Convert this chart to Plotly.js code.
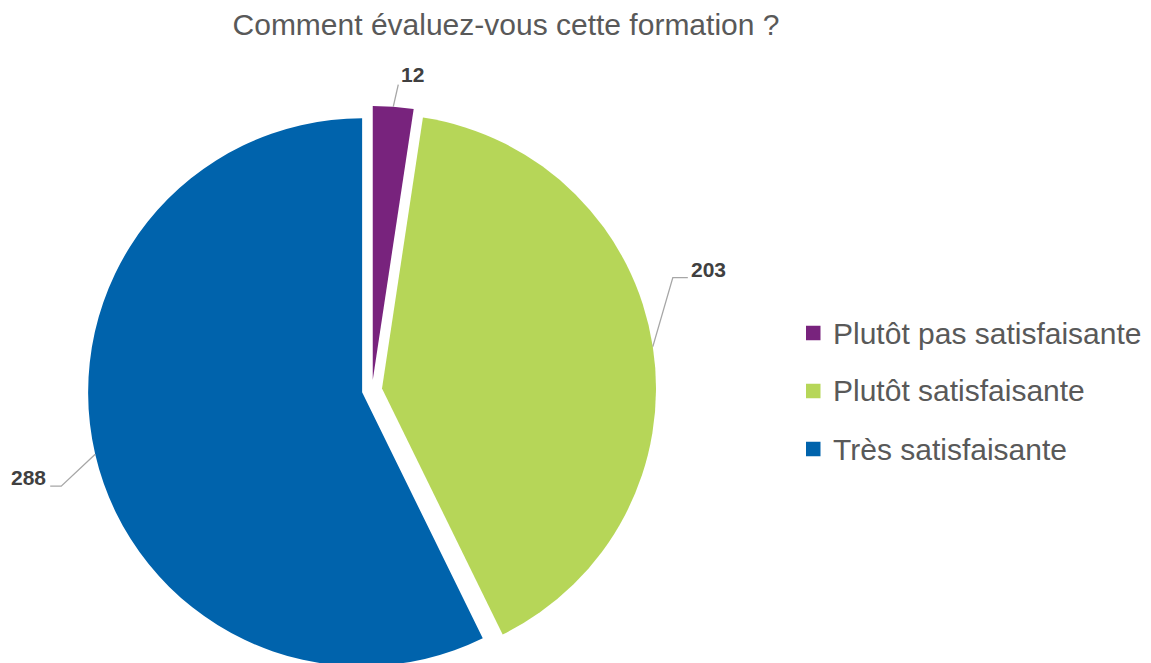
<!DOCTYPE html>
<html><head><meta charset="utf-8">
<script src="https://cdn.plot.ly/plotly-3.0.1.min.js"></script>
<style>html,body{margin:0;padding:0;overflow:hidden;background:#fff}#chart{width:1151px;height:680px}</style>
</head><body><div id="chart"></div>
<script>
const titleText = "Comment évaluez-vous cette formation ?";
const categories = ["Plutôt pas satisfaisante", "Plutôt satisfaisante", "Très satisfaisante"];
const values = [12, 203, 288];
const colors = ["#78237D", "#B6D658", "#0063AC"];

const W = 1151, H = 680;
const cx = 372, cy = 390, R = 274, pull = 0.037;
const font = "Liberation Sans, Arial, sans-serif";
const labelFont = "Liberation Sans Narrow, Arial Narrow, Liberation Sans, sans-serif";

// leader-line styling (relative to the slice edge point): elbow offset and horizontal run
const leaderStyle = [
  {ex: 5, ey: -22, hx: 0, side: 'right', ty: -10},
  {ex: 20, ey: -69, hx: 15, side: 'right', ty: -8},
  {ex: -34, ey: 32, hx: -11, side: 'left', ty: -9}
];

const px = x => x / W, py = y => 1 - y / H;
const total = values.reduce((a, b) => a + b, 0);
const shapes = [], annotations = [];
let cum = 0;
values.forEach((v, i) => {
  const mid = (cum + v / 2) / total * 2 * Math.PI;
  cum += v;
  const ux = Math.sin(mid), uy = -Math.cos(mid);
  const ex = cx + R * (1 + pull) * ux, ey = cy + R * (1 + pull) * uy;
  const s = leaderStyle[i];
  const bx = ex + s.ex, by = ey + s.ey;
  const hx = bx + s.hx;
  shapes.push({type: 'path', xref: 'paper', yref: 'paper',
    path: `M${px(ex)},${py(ey)} L${px(bx)},${py(by)} L${px(hx)},${py(by)}`,
    line: {color: '#A6A6A6', width: 1.3}});
  annotations.push({xref: 'paper', yref: 'paper', x: px(hx + (s.side === 'right' ? 1 : -2)), y: py(by + s.ty),
    xanchor: s.side === 'right' ? 'left' : 'right', yanchor: 'middle', showarrow: false,
    text: '<b>' + v + '</b>', font: {family: labelFont, size: 21, color: '#404040'}});
});

// legend drawn from categories/colors
categories.forEach((c, i) => {
  const yc = 333 + i * 58;
  shapes.push({type: 'rect', xref: 'paper', yref: 'paper', x0: px(806), x1: px(820.5), y0: py(yc - 7.25), y1: py(yc + 7.25),
    fillcolor: colors[i], line: {width: 0}});
  annotations.push({xref: 'paper', yref: 'paper', x: px(831), y: py(yc), xanchor: 'left', yanchor: 'middle',
    showarrow: false, text: c, font: {family: font, size: 30, color: '#595959'}});
});

const rx = R * (1 + pull);
const data = [{
  type: 'pie', labels: categories, values: values, sort: false, direction: 'clockwise', rotation: 0,
  pull: values.map(() => pull), textinfo: 'none', hoverinfo: 'label+value',
  marker: {colors: colors, line: {color: '#fff', width: 0}},
  domain: {x: [px(cx - rx), px(cx + rx)], y: [py(cy + rx), py(cy - rx)]}
}];
const layout = {
  width: W, height: H, margin: {l: 0, r: 0, t: 0, b: 0},
  paper_bgcolor: '#fff', showlegend: false,
  title: {text: titleText, x: 506 / W, xanchor: 'center', y: 1 - 24 / H, yanchor: 'middle',
    font: {family: font, size: 30, color: '#595959'}},
  shapes: shapes, annotations: annotations
};
Plotly.newPlot('chart', data, layout, {displayModeBar: false, staticPlot: true});
</script></body></html>
